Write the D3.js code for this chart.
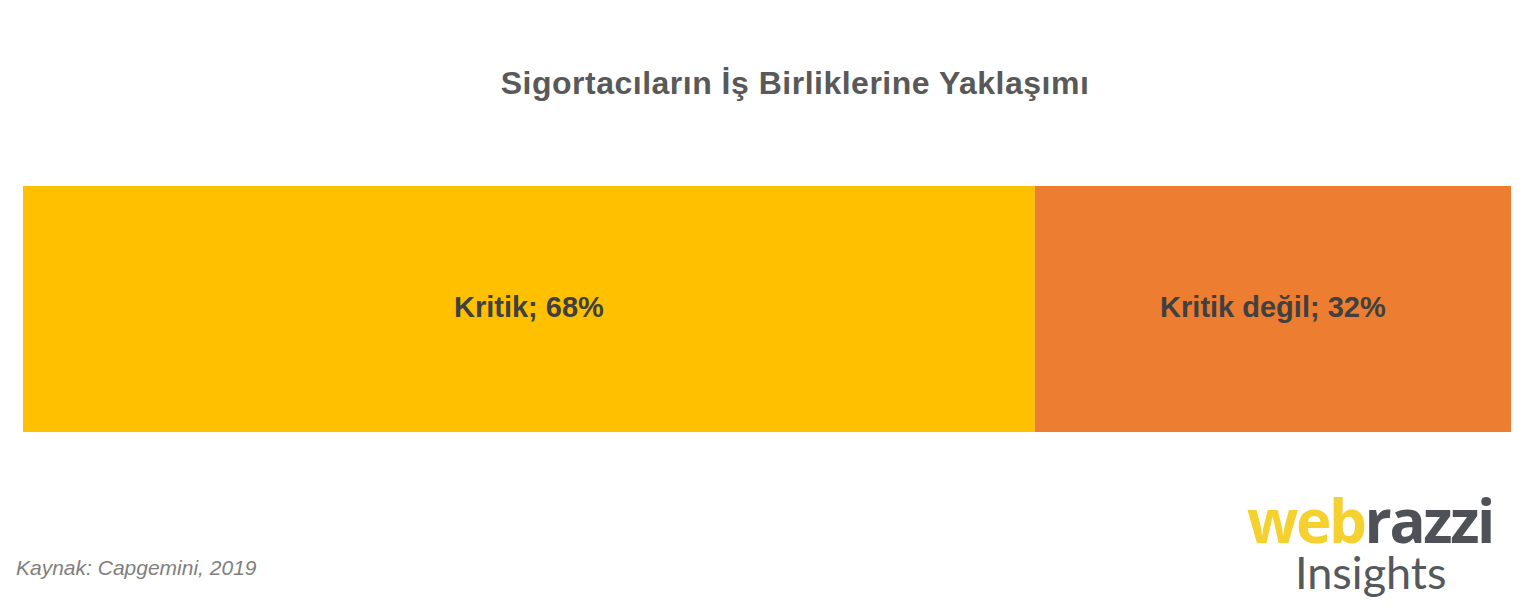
<!DOCTYPE html>
<html><head><meta charset="utf-8">
<script src="https://cdn.jsdelivr.net/npm/d3@7"></script>
<style>body{margin:0;background:#fff}svg{display:block}</style>
</head><body>
<svg id="c" width="1533" height="616"></svg>
<script>
const categories = ["Kritik", "Kritik değil"];
const values = [68, 32];
const colors = ["#ffc000", "#ed7d31"];
const title = "Sigortacıların İş Birliklerine Yaklaşımı";
const source = "Kaynak: Capgemini, 2019";

const svg = d3.select("#c");
const x = d3.scaleLinear().domain([0, 100]).range([23, 1511]);
const y = d3.scaleBand().domain(["all"]).range([186, 432]).padding(0);

let cum = 0;
const segs = categories.map((c, i) => { const s = {c, v: values[i], x0: cum, x1: cum + values[i], col: colors[i]}; cum += values[i]; return s; });

svg.append("text").attr("x", 795).attr("y", 94).attr("text-anchor", "middle")
  .attr("font-family", "Liberation Sans, Arial, sans-serif").attr("font-weight", "bold")
  .attr("font-size", 32).attr("letter-spacing", 0.5).attr("fill", "#595959").text(title);

svg.selectAll("rect.seg").data(segs).join("rect").attr("class", "seg")
  .attr("x", d => x(d.x0)).attr("width", d => x(d.x1) - x(d.x0))
  .attr("y", y("all")).attr("height", y.bandwidth()).attr("fill", d => d.col);

svg.selectAll("text.lbl").data(segs).join("text").attr("class", "lbl")
  .attr("x", d => (x(d.x0) + x(d.x1)) / 2).attr("y", y("all") + y.bandwidth() / 2 + 8)
  .attr("text-anchor", "middle").attr("font-family", "Liberation Sans, Arial, sans-serif")
  .attr("font-weight", "bold").attr("font-size", 29).attr("fill", "#404040")
  .text(d => d.c + "; " + d.v + "%");

svg.append("text").attr("x", 16).attr("y", 575)
  .attr("font-family", "Liberation Sans, Arial, sans-serif").attr("font-style", "italic")
  .attr("font-size", 21).attr("fill", "#7f7f7f").text(source);

const logo = svg.append("text").attr("x", 1247).attr("y", 543)
  .attr("font-family", "Open Sans, sans-serif").attr("font-weight", "bold")
  .attr("font-size", 60).attr("letter-spacing", -2.4);
logo.append("tspan").attr("fill", "#f5d130").text("web");
logo.append("tspan").attr("fill", "#4e5155").text("razzi");
svg.append("text").attr("x", 1295).attr("y", 589)
  .attr("font-family", "Lato, sans-serif").attr("font-size", 45).attr("fill", "#55585c").text("Insights");
</script>
</body></html>
